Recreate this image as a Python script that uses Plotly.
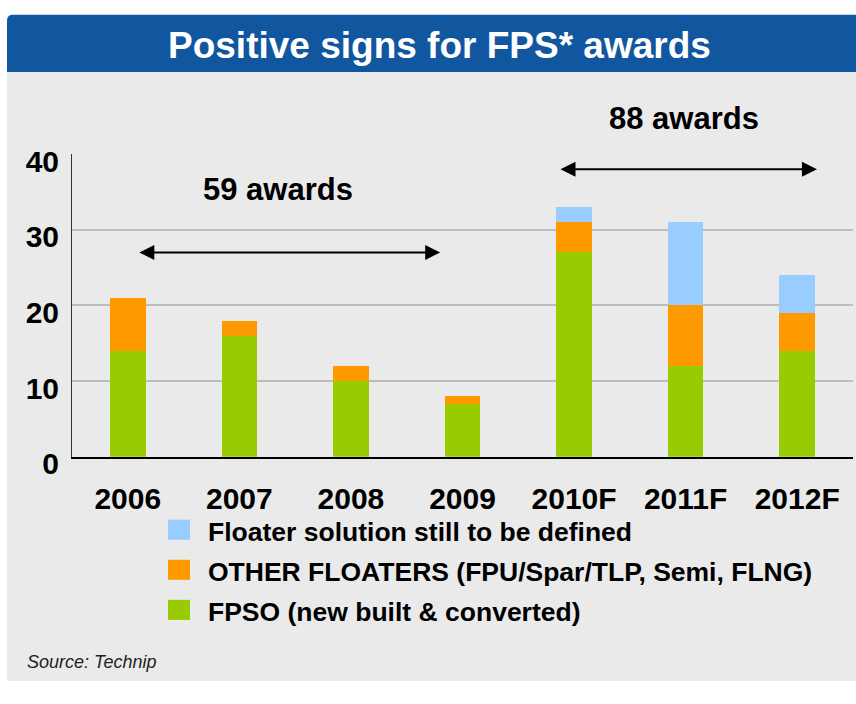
import plotly.graph_objects as go

W, H = 856, 704

years = ["2006", "2007", "2008", "2009", "2010F", "2011F", "2012F"]
fpso = [14, 16, 10, 7, 27, 12, 14]
other_floaters = [7, 2, 2, 1, 4, 8, 5]
to_be_defined = [0, 0, 0, 0, 2, 11, 5]

series = [
    ("FPSO (new built & converted)", fpso, "#99CC00"),
    ("OTHER FLOATERS (FPU/Spar/TLP, Semi, FLNG)", other_floaters, "#FF9900"),
    ("Floater solution still to be defined", to_be_defined, "#99CCFF"),
]

FONT = "Liberation Sans, Arial, sans-serif"


def px_x(p):
    return p / W


def px_y(p):
    return 1 - p / H


fig = go.Figure()
for name, vals, color in series:
    fig.add_trace(go.Bar(x=years, y=vals, name=name, marker=dict(color=color, line=dict(width=0)),
                         width=0.32, showlegend=False))

# background panel + title bar with rounded top-left corner
rx, ry = 6 / W, 6 / H
x0, yt, yb = px_x(7), px_y(6), px_y(66)
shapes = [
    dict(type="rect", xref="paper", yref="paper", x0=x0, x1=1, y0=0, y1=yb,
         fillcolor="#EAEAEA", line=dict(width=0), layer="below"),
    dict(type="path", xref="paper", yref="paper", layer="below",
         path=f"M{x0},{yb} L{x0},{yt - ry} Q{x0},{yt} {x0 + rx},{yt} L1,{yt} L1,{yb} Z",
         fillcolor="#1157A0", line=dict(width=0)),
]


def label(text, x, y, size, **kw):
    return dict(text=text, xref="paper", yref="paper", x=px_x(x), y=px_y(y), showarrow=False,
                xanchor=kw.pop("xanchor", "center"), yanchor="middle",
                font=dict(size=size, color=kw.pop("color", "black"), family=FONT), **kw)


annotations = [
    label("<b>Positive signs for FPS* awards</b>", 440, 38, 37, color="white"),
    label("<i>Source: Technip</i>", 25, 684, 18, xanchor="left", color="#222222"),
    label("<b>59 awards</b>", 278, 189, 31),
    label("<b>88 awards</b>", 684, 115, 31),
]

# double-headed arrows spanning the award periods
for xa, xb, yv in [(0.09, 2.80, 27), (3.865, 6.177, 38)]:
    annotations.append(dict(x=xb, y=yv, ax=xa, ay=yv, xref="x", yref="y", axref="x", ayref="y",
                            text="", showarrow=True, arrowside="end+start",
                            arrowhead=2, startarrowhead=2, arrowsize=1.5, startarrowsize=1.5,
                            arrowwidth=2, arrowcolor="black"))

# legend drawn by hand to get the big square swatches
for i, (name, vals, color) in enumerate(reversed(series)):
    cy = 545.5 + 42 * i
    shapes.append(dict(type="rect", xref="paper", yref="paper", x0=px_x(168), x1=px_x(190),
                       y0=px_y(cy + 10.5), y1=px_y(cy - 10.5), fillcolor=color, line=dict(width=0)))
    annotations.append(label(f"<b>{name}</b>", 206, cy + 2, 26.5, xanchor="left"))

fig.update_layout(
    width=W, height=H,
    margin=dict(l=0, r=0, t=0, b=0),
    paper_bgcolor="white",
    plot_bgcolor="rgba(0,0,0,0)",
    barmode="stack",
    showlegend=False,
    shapes=shapes,
    annotations=annotations,
    font=dict(family=FONT, color="black"),
    xaxis=dict(domain=[px_x(72), px_x(853)], showline=True, linecolor="black", linewidth=2,
               showgrid=False, ticks="", tickfont=dict(size=30, color="black", family=FONT),
               ticklabelstandoff=14, tickprefix="<b>", ticksuffix="</b>"),
    yaxis=dict(domain=[px_y(469), px_y(152)], range=[0, 40], dtick=10, showline=True,
               linecolor="#333333", linewidth=1, showgrid=True, gridcolor="#BDBDBD", gridwidth=1.5,
               zeroline=False, ticks="", tickfont=dict(size=30, color="black", family=FONT),
               tickprefix="<b>", ticksuffix="</b>", ticklabelstandoff=6, ticklabelshift=7),
)

# pin the plot to the window's top-left corner (no body margin)
pin = ("var d=document.getElementById('{plot_id}');d.style.position='fixed';"
       "d.style.left='0px';d.style.top='0px';document.body.style.margin='0';")
fig.write_html("out.html", config={"displayModeBar": False}, post_script=pin)
